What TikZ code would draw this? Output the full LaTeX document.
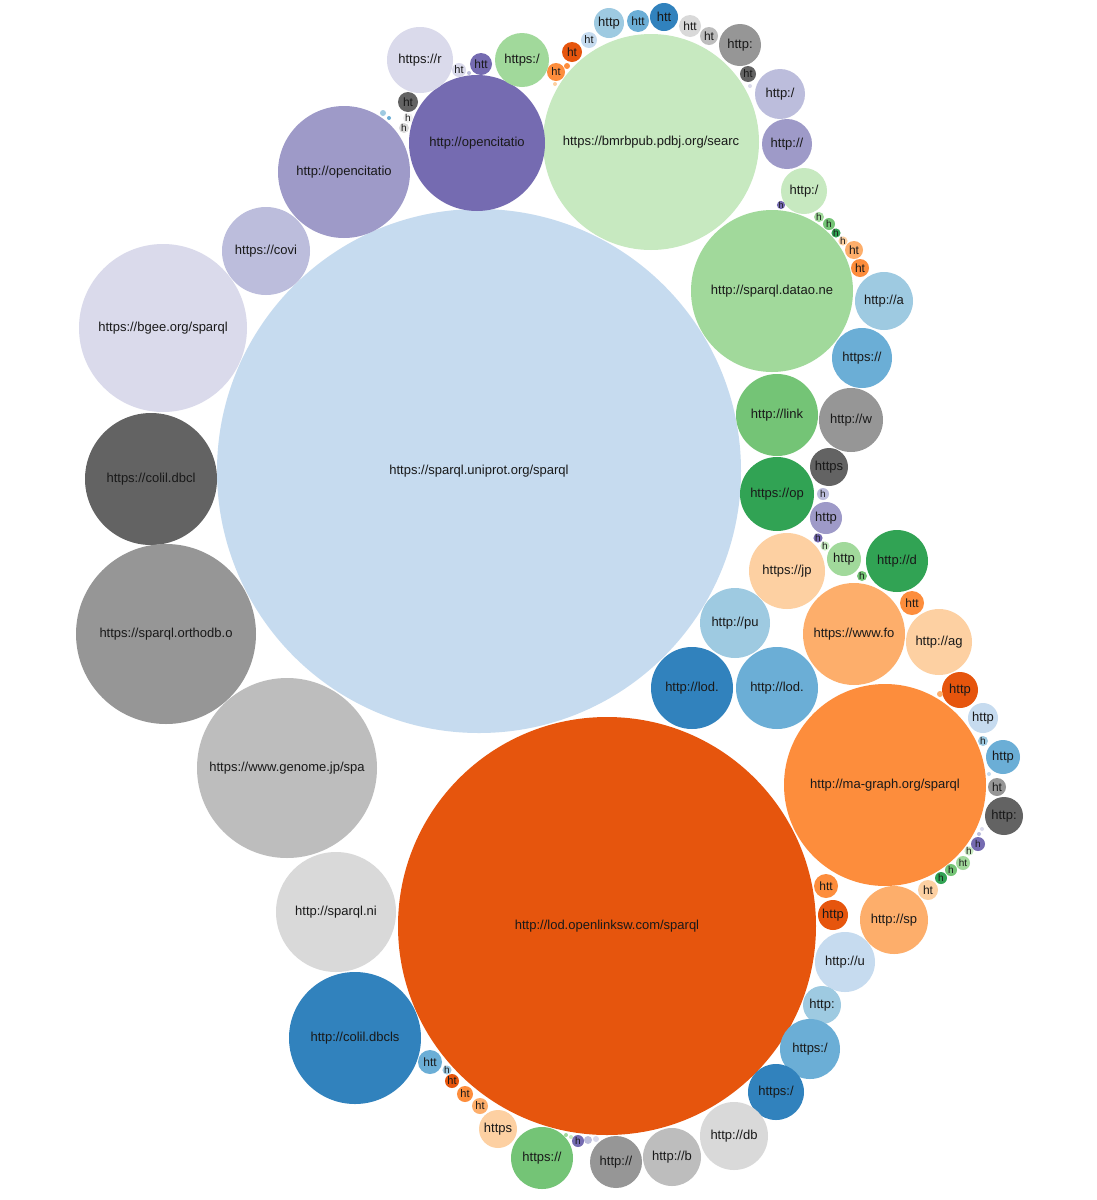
\documentclass[tikz,border=0pt]{standalone}
\usepackage{fontspec}
\setmainfont{Liberation Sans}
\definecolor{bA}{HTML}{3182BD}\definecolor{bB}{HTML}{6BAED6}\definecolor{bC}{HTML}{9ECAE1}\definecolor{bD}{HTML}{C6DBEF}
\definecolor{oA}{HTML}{E6550D}\definecolor{oB}{HTML}{FD8D3C}\definecolor{oC}{HTML}{FDAE6B}\definecolor{oD}{HTML}{FDD0A2}
\definecolor{gA}{HTML}{31A354}\definecolor{gB}{HTML}{74C476}\definecolor{gC}{HTML}{A1D99B}\definecolor{gD}{HTML}{C7E9C0}
\definecolor{pA}{HTML}{756BB1}\definecolor{pB}{HTML}{9E9AC8}\definecolor{pC}{HTML}{BCBDDC}\definecolor{pD}{HTML}{DADAEB}
\definecolor{kA}{HTML}{636363}\definecolor{kB}{HTML}{969696}\definecolor{kC}{HTML}{BDBDBD}\definecolor{kD}{HTML}{D9D9D9}
\newcounter{bubc}
\newcommand{\bub}[6]{\stepcounter{bubc}\node[bubble,fill=#4,minimum size=#3*2pt,font=\fontsize{#5}{#5}\selectfont] (b\thebubc) at (#1,#2) {#6};}
\tikzset{bubble/.style={circle,inner sep=0pt,text=black!90}}
\begin{document}
\begin{tikzpicture}[x=1pt,y=-1pt]
\fill[white] (0,0) rectangle (1097,1200);
\useasboundingbox (0,0) rectangle (1097,1200);
\bub{479}{471}{262}{bD}{13}{https://sparql.uniprot.org/sparql}
\bub{607}{926}{209}{oA}{13}{http://lod.openlinksw.com/sparql}
\bub{651}{142}{108}{gD}{13}{https://bmrbpub.pdbj.org/searc}
\bub{477}{143}{68}{pA}{13}{http://opencitatio}
\bub{344}{172}{66}{pB}{13}{http://opencitatio}
\bub{266}{251}{44}{pC}{13}{https://covi}
\bub{163}{328}{84}{pD}{13}{https://bgee.org/sparql}
\bub{151}{479}{66}{kA}{13}{https://colil.dbcl}
\bub{166}{634}{90}{kB}{13}{https://sparql.orthodb.o}
\bub{287}{768}{90}{kC}{13}{https://www.genome.jp/spa}
\bub{336}{912}{60}{kD}{13}{http://sparql.ni}
\bub{355}{1038}{66}{bA}{13}{http://colil.dbcls}
\bub{420}{60}{33}{pD}{13}{https://r}
\bub{522}{60}{27}{gC}{13}{https:/}
\bub{772}{291}{81}{gC}{13}{http://sparql.datao.ne}
\bub{884}{301}{29}{bC}{13}{http://a}
\bub{862}{358}{30}{bB}{13}{https://}
\bub{777}{415}{41}{gB}{13}{http://link}
\bub{851}{420}{32}{kB}{13}{http://w}
\bub{829}{467}{19}{kA}{13}{https}
\bub{777}{494}{37}{gA}{13}{https://op}
\bub{826}{518}{16}{pB}{13}{http}
\bub{787}{571}{38}{oD}{13}{https://jp}
\bub{844}{559}{17}{gC}{13}{http}
\bub{897}{561}{31}{gA}{13}{http://d}
\bub{854}{634}{51}{oC}{13}{https://www.fo}
\bub{912}{603}{12}{oB}{12}{htt}
\bub{939}{642}{33}{oD}{13}{http://ag}
\bub{735}{623}{35}{bC}{13}{http://pu}
\bub{692}{688}{41}{bA}{13}{http://lod.}
\bub{777}{688}{41}{bB}{13}{http://lod.}
\bub{885}{785}{101}{oB}{13}{http://ma-graph.org/sparql}
\bub{960}{690}{18}{oA}{13}{http}
\bub{983}{718}{15}{bD}{13}{http}
\bub{1003}{757}{17}{bB}{13}{http}
\bub{997}{787}{9}{kB}{12}{ht}
\bub{1004}{816}{19}{kA}{13}{http:}
\bub{894}{920}{34}{oC}{13}{http://sp}
\bub{826}{886}{12}{oB}{12}{htt}
\bub{833}{915}{15}{oA}{13}{http}
\bub{845}{962}{30}{bD}{13}{http://u}
\bub{822}{1005}{19}{bC}{13}{http:}
\bub{810}{1049}{30}{bB}{13}{https:/}
\bub{776}{1092}{28}{bA}{13}{https:/}
\bub{734}{1136}{34}{kD}{13}{http://db}
\bub{672}{1157}{29}{kC}{13}{http://b}
\bub{616}{1162}{26}{kB}{13}{http://}
\bub{542}{1158}{31}{gB}{13}{https://}
\bub{498}{1129}{19}{oD}{13}{https}
\bub{430}{1062}{12}{bB}{12}{htt}
% top small
\bub{459}{70}{7}{pD}{11}{ht}
\bub{469}{73}{2}{pC}{1}{}
\bub{481}{64}{11}{pA}{12}{htt}
\bub{408}{102}{10}{kA}{12}{ht}
\bub{408}{118}{5}{kD!40}{10}{h}
\bub{404}{128}{5}{kD}{10}{h}
\bub{383}{113}{3}{bC}{1}{}
\bub{389}{118}{2}{bB}{1}{}
\bub{556}{72}{9}{oB}{11}{ht}
\bub{567}{66}{3}{oB}{1}{}
\bub{555}{84}{2}{oD}{1}{}
\bub{572}{52}{10}{oA}{12}{ht}
\bub{589}{40}{8}{bD}{11}{ht}
\bub{609}{23}{15}{bC}{13}{http}
\bub{638}{21}{11}{bB}{12}{htt}
\bub{664}{17}{14}{bA}{13}{htt}
\bub{690}{26}{11}{kD}{12}{htt}
\bub{709}{36}{9}{kC}{12}{ht}
\bub{740}{45}{21}{kB}{13}{http:}
\bub{748}{74}{8}{kA}{11}{ht}
\bub{750}{86}{2}{pD}{1}{}
\bub{780}{94}{25}{pC}{13}{http:/}
\bub{787}{144}{25}{pB}{13}{http://}
\bub{804}{191}{23}{gD}{13}{http:/}
% right side small
\bub{781}{205}{3}{pA}{9}{h}
\bub{819}{217}{5}{gC}{10}{h}
\bub{829}{224}{6}{gB}{10}{h}
\bub{836}{233}{4}{gA}{10}{h}
\bub{843}{241}{4}{oD}{10}{h}
\bub{854}{250}{9}{oC}{12}{ht}
\bub{860}{268}{9}{oB}{12}{ht}
\bub{823}{494}{6}{pC}{10}{h}
\bub{818}{538}{4}{pA}{10}{h}
\bub{825}{546}{4}{gD}{10}{h}
\bub{862}{576}{5}{gB}{10}{h}
\bub{940}{694}{3}{oC}{1}{}
\bub{983}{741}{5}{bC}{10}{h}
\bub{989}{774}{2}{bD}{1}{}
\bub{982}{829}{2}{pD}{1}{}
\bub{979}{834}{2}{pC}{1}{}
\bub{978}{844}{7}{pA}{10}{h}
\bub{969}{851}{4}{gD}{10}{h}
\bub{963}{863}{7}{gC}{10}{ht}
\bub{951}{870}{6}{gB}{10}{h}
\bub{941}{878}{6}{gA}{10}{h}
\bub{928}{890}{10}{oD}{12}{ht}
% bottom small
\bub{447}{1070}{4}{bC}{10}{h}
\bub{452}{1081}{7}{oA}{11}{ht}
\bub{465}{1094}{8}{oB}{11}{ht}
\bub{480}{1106}{8}{oC}{11}{ht}
\bub{566}{1135}{2}{gC}{1}{}
\bub{571}{1137}{2}{gD}{1}{}
\bub{578}{1141}{6}{pA}{10}{h}
\bub{588}{1140}{4}{pC}{1}{}
\bub{596}{1139}{3}{pD}{1}{}
\end{tikzpicture}
\end{document}
